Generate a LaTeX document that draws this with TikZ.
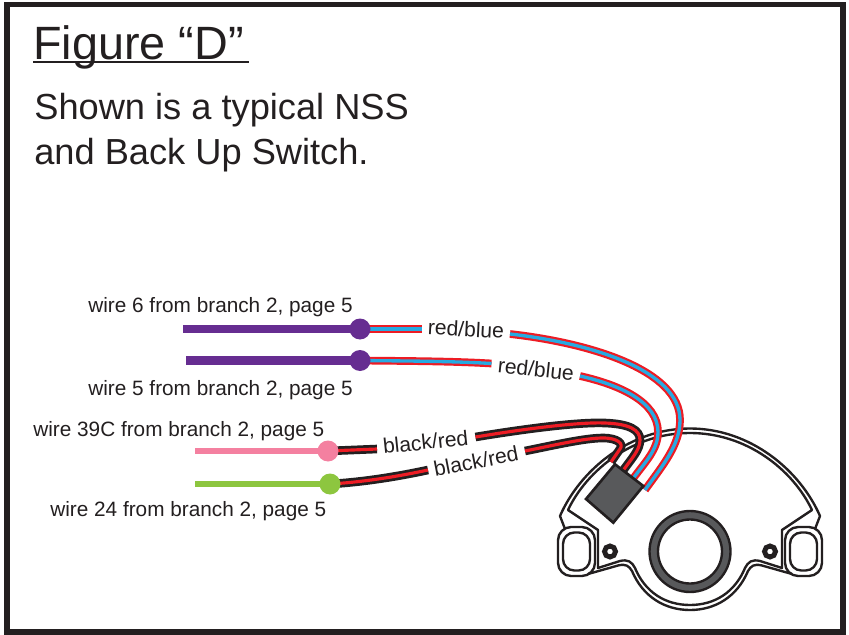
\documentclass[tikz,border=0pt]{standalone}
\usepackage{fontspec}
\setmainfont{Liberation Sans}
\definecolor{inkblack}{HTML}{231F20}
\definecolor{wirered}{HTML}{ED1C24}
\definecolor{wireblue}{HTML}{27AAE1}
\definecolor{wirepurple}{HTML}{662D91}
\definecolor{wirepink}{HTML}{F480A0}
\definecolor{wiregreen}{HTML}{8DC63F}
\definecolor{plugrey}{HTML}{58595B}
\tikzset{
  redblue/.style={draw=wirered, line width=1.25pt, double=wireblue, double distance=1.9pt},
  blackred/.style={draw=inkblack, line width=1.55pt, double=wirered, double distance=1.8pt},
  stub/.style={line width=#1},
  termdot/.style={circle, inner sep=0pt, minimum size=12.4pt},
  wirelabel/.style={font=\fontsize{12pt}{14pt}\selectfont, text=inkblack, inner sep=2pt},
  notelabel/.style={font=\fontsize{11.82pt}{14pt}\selectfont, text=inkblack, anchor=base west, inner sep=0pt},
  outline/.style={draw=inkblack, line width=1.35pt, line join=round},
}
\begin{document}
\begin{tikzpicture}[x=0.02cm, y=-0.02cm]
    \useasboundingbox (0,0) rectangle (849,635);
    \draw[inkblack, line width=3.4pt] (7,4.5) rectangle (843,632);

    % heading
    \node[anchor=base west, inner sep=0pt, text=inkblack, font=\fontsize{26.6pt}{30pt}\selectfont] (title) at (33,60) {Figure “D”};
    \draw[inkblack, line width=1.1pt] (title.base west)++(0,1.8) coordinate (rulea) -- (249,61.8) coordinate (ruleb);
    \node[anchor=base west, inner sep=0pt, text=inkblack, font=\fontsize{20.62pt}{25pt}\selectfont] (shown) at (34,120) {Shown is a typical NSS};
    \node[anchor=base west, inner sep=0pt, text=inkblack, font=\fontsize{20.62pt}{25pt}\selectfont] (backup) at (34,165) {and Back Up Switch.};

    % switch body
    \foreach \side in {-1,1} {
      \begin{scope}[shift={(690,0)}, xscale=\side]
        \draw[outline] (0,428.5) .. controls (60,428.5) and (110,470) .. (130,516) -- (125,529);
        \draw[outline] (0,433) .. controls (57,433) and (103,470) .. (122,510) -- (92,530) -- (92,568)
            -- (70,561) .. controls (62,559) and (58,562) .. (55,568) .. controls (45,592) and (25,605) .. (0,605);
        \draw[outline] (102,574) -- (72,565.5) .. controls (64,563.5) and (61,566) .. (58,571) .. controls (47,597) and (25,610) .. (0,610);
        \draw[outline, rounded corners=7.5pt] (95,527) rectangle (132,576);
        \draw[outline, rounded corners=6.5pt] (100,532.5) rectangle (127,570.5);
        \draw[inkblack, line width=2.8pt] (80,551.5) circle[radius=5.5];
      \end{scope}
    }
    \draw[fill=plugrey, draw=inkblack, line width=1.35pt] (690,551.5) circle[radius=40.5];
    \draw[fill=white, draw=inkblack, line width=1.35pt] (690,551.5) circle[radius=32];

    % terminals
    \node[termdot] (dotsix) at (360,329) {};
    \node[termdot] (dotfive) at (360,360.5) {};
    \node[termdot] (dotpink) at (328,451) {};
    \node[termdot] (dotgreen) at (330,484) {};
    \coordinate (endsix) at (183,329);
    \coordinate (endfive) at (186,360.5);
    \coordinate (endpink) at (195,451);
    \coordinate (endgreen) at (195,484);

    \draw[wirepurple, stub=4.6pt] (endsix) -- (dotsix.center);
    \draw[wirepurple, stub=4.6pt] (endfive) -- (dotfive.center);
    \draw[wirepink, stub=3.1pt] (endpink) -- (dotpink.center);
    \draw[wiregreen, stub=3.1pt] (endgreen) -- (dotgreen.center);

    % notation
    \node[notelabel] (notesix) at (88,312) {wire 6 from branch 2, page 5};
    \node[notelabel] (notefive) at (88,395) {wire 5 from branch 2, page 5};
    \node[notelabel] (notepink) at (33,436) {wire 39C from branch 2, page 5};
    \node[notelabel] (notegreen) at (50,516) {wire 24 from branch 2, page 5};

    \node[wirelabel, rotate=-3] (labsix) at (466,329) {red/blue};
    \node[wirelabel, rotate=-6] (labfive) at (536,369) {red/blue};
    \node[wirelabel, rotate=6] (labpink) at (425.5,442) {black/red};
    \node[wirelabel, rotate=11] (labgreen) at (476,461) {black/red};

    % plug corners
    \coordinate (plugn) at (615,464.3);
    \coordinate (pluge) at (643.3,486);
    \coordinate (plugs) at (613.3,522.7);
    \coordinate (plugw) at (586,499);
    \coordinate (pinone) at (611,462);
    \coordinate (pintwo) at (622,472);
    \coordinate (pinthree) at (632,480);
    \coordinate (pinfour) at (645,490);

    % wires
    \draw[redblue] (dotsix.center) -- (421.5,329) coordinate (gapsix);
    \draw[redblue] (510,334) coordinate (aftersix) .. controls (590,343) and (680,370) .. (680,420) .. controls (680,445) and (663,465) .. (pinfour);
    \draw[redblue] (dotfive.center) .. controls (400,361) and (450,361) .. (491.5,363.5) coordinate (gapfive);
    \draw[redblue] (580,376) coordinate (afterfive) .. controls (620,385) and (658,402) .. (658,432) .. controls (658,450) and (645,462) .. (pinthree);
    \draw[blackred] (dotpink.center) -- (377,449) coordinate (gappink);
    \draw[blackred] (475.5,437) coordinate (afterpink) .. controls (530,428) and (580,422) .. (605,423) .. controls (630,424) and (640,430) .. (640,440) .. controls (640,450) and (632,458) .. (pintwo);
    \draw[blackred] (dotgreen.center) .. controls (365,482) and (400,476) .. (428,470) coordinate (gapgreen);
    \draw[blackred] (525,451) coordinate (aftergreen) .. controls (555,445) and (585,438) .. (603,438) .. controls (618,438) and (624,444) .. (620,449) -- (pinone);

    \fill[wirepurple] (dotsix) circle[radius=10.5];
    \fill[wirepurple] (dotfive) circle[radius=10.5];
    \fill[wirepink] (dotpink) circle[radius=10.5];
    \fill[wiregreen] (dotgreen) circle[radius=10.5];

    \draw[fill=plugrey, draw=inkblack, line width=1.5pt, line join=miter] (plugn) -- (pluge) -- (plugs) -- (plugw) -- cycle;
\end{tikzpicture}
\end{document}
